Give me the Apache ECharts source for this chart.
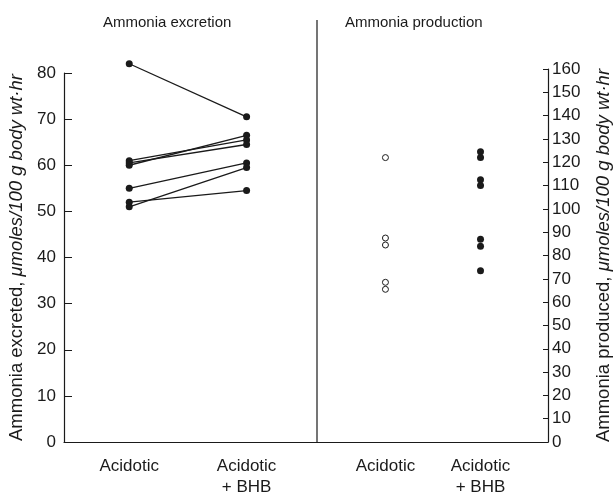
<!DOCTYPE html>
<html>
<head>
<meta charset="utf-8">
<script src="https://cdn.jsdelivr.net/npm/echarts@6/dist/echarts.min.js"></script>
<style>
  html, body { margin: 0; padding: 0; background: #fff; }
  #chart { width: 613px; height: 494px; }
</style>
</head>
<body>
<div id="chart"></div>
<script>
var myChart = echarts.init(document.getElementById('chart'));

// groups on the x axis
var categories = ['Acidotic', 'Acidotic\n+ BHB'];

// ammonia excretion, one pair per animal (acidotic -> acidotic + BHB)
var excretionAcidotic = [82, 61, 60.5, 60, 55, 52, 51];
var excretionBHB = [70.5, 65.5, 64.5, 66.5, 60.5, 54.5, 59.5];

// ammonia production
var productionAcidotic = [122, 87.5, 84.5, 68.5, 65.5];
var productionBHB = [124.5, 122, 112.5, 110, 87, 84, 73.5];

var ink = '#1a1a1a';
var font = 'Liberation Sans';

var pairSeries = excretionAcidotic.map(function (v, i) {
    return {
        type: 'line',
        xAxisIndex: 0,
        yAxisIndex: 0,
        data: [[0, v], [1, excretionBHB[i]]],
        symbol: 'circle',
        symbolSize: 7,
        clip: false,
        lineStyle: {color: ink, width: 1.3},
        itemStyle: {color: ink, opacity: 1},
        silent: true
    };
});

function xAxisFor(idx, min, max) {
    return {
        type: 'value',
        gridIndex: idx,
        min: min,
        max: max,
        splitLine: {show: false},
        axisTick: {show: false},
        axisLine: {show: true, onZero: false, lineStyle: {color: ink, width: 1.2}},
        axisLabel: {
            customValues: [0, 1],
            formatter: function (v) { return categories[Math.round(v)]; },
            color: ink,
            fontFamily: font,
            fontSize: 17,
            lineHeight: 21,
            margin: 14
        }
    };
}

var nameRich = {
    n: {fontFamily: font, fontSize: 18.5, color: ink},
    i: {fontFamily: font, fontSize: 18.5, color: ink, fontStyle: 'italic'}
};

var option = {
    animation: false,
    grid: [
        {left: 64, right: 296, top: 73, bottom: 52, outerBoundsMode: 'none'},
        {left: 317, right: 65, top: 69, bottom: 52, outerBoundsMode: 'none'}
    ],
    xAxis: [
        xAxisFor(0, -0.556, 1.6),
        xAxisFor(1, -0.72, 1.71)
    ],
    yAxis: [
        {
            type: 'value',
            gridIndex: 0,
            min: 0,
            max: 80,
            interval: 10,
            splitLine: {show: false},
            axisLine: {show: true, onZero: false, lineStyle: {color: ink, width: 1.2}},
            axisTick: {show: true, inside: true, length: 8, lineStyle: {color: ink}},
            axisLabel: {color: ink, fontFamily: font, fontSize: 17, margin: 8},
            name: '{n|Ammonia excreted, }{i|μmoles/100 g body wt·hr}',
            nameLocation: 'middle',
            nameGap: 38,
            nameTextStyle: {rich: nameRich}
        },
        {
            type: 'value',
            gridIndex: 1,
            position: 'right',
            min: 0,
            max: 160,
            interval: 10,
            splitLine: {show: false},
            axisLine: {show: true, onZero: false, lineStyle: {color: ink, width: 1.2}},
            axisTick: {show: true, inside: true, length: 5, lineStyle: {color: ink}},
            axisLabel: {color: ink, fontFamily: font, fontSize: 17, margin: 4},
            name: '{n|Ammonia produced, }{i|μmoles/100 g body wt·hr}',
            nameLocation: 'middle',
            nameGap: 46,
            nameTextStyle: {rich: nameRich}
        }
    ],
    graphic: [
        {
            type: 'text',
            left: 103,
            top: 15,
            style: {text: 'Ammonia excretion', fill: ink, font: '15px "Liberation Sans"'}
        },
        {
            type: 'text',
            left: 345,
            top: 15,
            style: {text: 'Ammonia production', fill: ink, font: '15px "Liberation Sans"'}
        },
        {
            type: 'line',
            shape: {x1: 317, y1: 20, x2: 317, y2: 442},
            style: {stroke: ink, lineWidth: 1.2}
        }
    ],
    series: pairSeries.concat([
        {
            type: 'scatter',
            xAxisIndex: 1,
            yAxisIndex: 1,
            data: productionAcidotic.map(function (v) { return [0, v]; }),
            symbol: 'circle',
            symbolSize: 6,
            itemStyle: {color: '#fff', borderColor: ink, borderWidth: 1, opacity: 1}
        },
        {
            type: 'scatter',
            xAxisIndex: 1,
            yAxisIndex: 1,
            data: productionBHB.map(function (v) { return [1, v]; }),
            symbol: 'circle',
            symbolSize: 7,
            itemStyle: {color: ink, opacity: 1}
        }
    ])
};

myChart.setOption(option);
</script>
</body>
</html>
